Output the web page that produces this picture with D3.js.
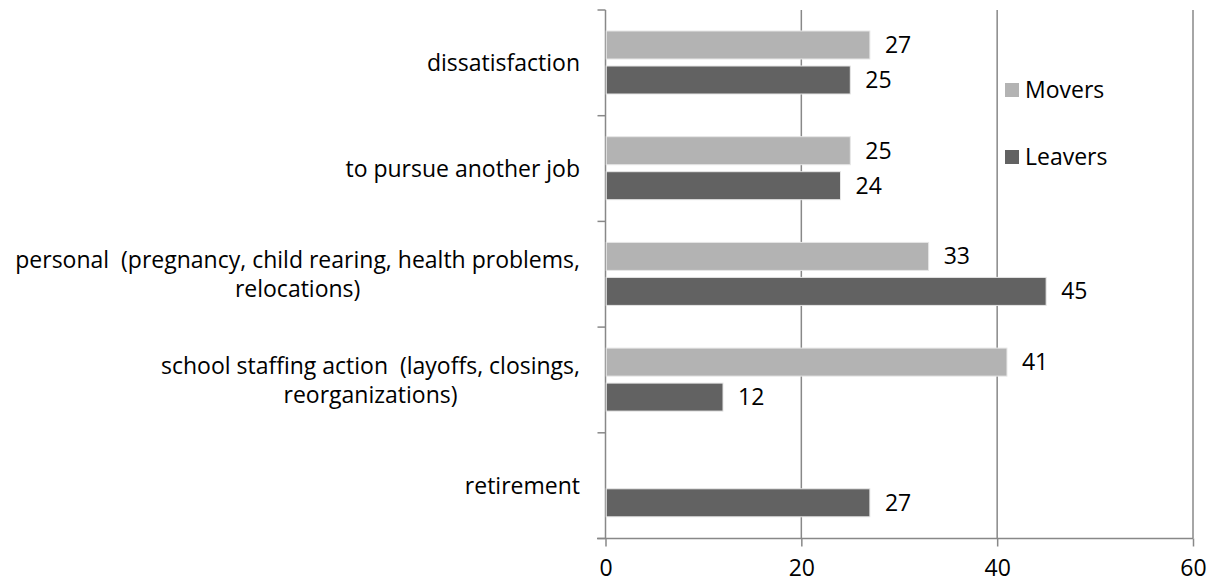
<!DOCTYPE html>
<html><head><meta charset="utf-8">
<script src="https://cdn.jsdelivr.net/npm/d3@7"></script>
<style>
html,body{margin:0;padding:0;background:#fff;}
text{font-family:"Open Sans",sans-serif;fill:#000;white-space:pre;}
</style></head>
<body>
<svg id="chart" width="1215" height="584"></svg>
<script>
const categories = [
  ["dissatisfaction"],
  ["to pursue another job"],
  ["personal  (pregnancy, child rearing, health problems,", "relocations)"],
  ["school staffing action  (layoffs, closings,", "reorganizations)"],
  ["retirement"]
];
const categoryKeys = ["dissatisfaction","to pursue another job","personal","school staffing action","retirement"];
const seriesNames = ["Movers","Leavers"];
const movers  = [27, 25, 33, 41, null];
const leavers = [25, 24, 45, 12, 27];
const xTicks = [0, 20, 40, 60];
const colors = {Movers:"#b3b3b3", Leavers:"#626262"};

const svg = d3.select("#chart");
const fs = 23;
const fontFam = '"Open Sans",sans-serif';
const x = d3.scaleLinear().domain([0,60]).range([605.5,1193]);
const y = d3.scaleBand().domain(categoryKeys).range([10,538.5]).padding(0);
const inner = d3.scaleBand().domain(seriesNames).range([21,84]).paddingInner(0.2).paddingOuter(0);
const gridColor = "#888888";

// gridlines
svg.append("g").selectAll("line").data(xTicks.slice(1)).join("line")
  .attr("x1",d=>x(d)).attr("x2",d=>x(d)).attr("y1",10).attr("y2",538.5)
  .attr("stroke",gridColor).attr("stroke-width",1.5);

// x axis
const xAxis = svg.append("g").attr("transform","translate(0,538.5)")
  .call(d3.axisBottom(x).tickValues(xTicks).tickSize(8).tickPadding(13).tickFormat(d3.format("d")));
xAxis.select(".domain").attr("stroke",gridColor).attr("stroke-width",1.5).attr("d","M597,0H1193");
xAxis.selectAll(".tick line").attr("stroke",gridColor).attr("stroke-width",1.5);
xAxis.selectAll(".tick text").attr("font-size",fs).attr("fill","#000").style("font-family",fontFam);

// y axis
const yAxis = svg.append("g").attr("transform","translate(605.5,0)");
yAxis.append("line").attr("x1",0).attr("x2",0).attr("y1",10).attr("y2",538.5).attr("stroke",gridColor).attr("stroke-width",1.5);
const bounds = categoryKeys.map(c=>y(c)).concat([y.range()[1]]);
yAxis.selectAll("line.tk").data(bounds).join("line").attr("class","tk")
  .attr("x1",-8).attr("x2",0).attr("y1",d=>d).attr("y2",d=>d)
  .attr("stroke",gridColor).attr("stroke-width",1.5);

// category labels
const lineH = 29;
const labelG = svg.append("g");
categoryKeys.forEach((k,i)=>{
  const lines = categories[i];
  const cy = y(k) + y.bandwidth()/2;
  const g = labelG.append("g");
  const t = g.append("text").attr("font-size",fs).attr("text-anchor","middle");
  lines.forEach((ln,j)=>{
    t.append("tspan").attr("x",0).attr("y",cy + (j - (lines.length-1)/2)*lineH).attr("dy","0.35em").text(ln);
  });
  const bb = t.node().getBBox();
  g.attr("transform",`translate(${580 - (bb.x+bb.width)},0)`);
});

// bars
const data = [];
categoryKeys.forEach((k,i)=>{
  data.push({cat:k, s:"Movers", v:movers[i]});
  data.push({cat:k, s:"Leavers", v:leavers[i]});
});
const valid = data.filter(d=>d.v!=null);
svg.append("g").selectAll("rect").data(valid).join("rect")
  .attr("x",x(0)+0.75).attr("y",d=>y(d.cat)+inner(d.s))
  .attr("width",d=>x(d.v)-x(0)-0.75).attr("height",inner.bandwidth())
  .attr("fill",d=>colors[d.s]).attr("stroke","#e6e6e6").attr("stroke-width",1);

// value labels
svg.append("g").selectAll("text").data(valid).join("text")
  .attr("x",d=>x(d.v)+15).attr("y",d=>y(d.cat)+inner(d.s)+inner.bandwidth()/2)
  .attr("dy","0.35em").attr("font-size",fs).text(d=>d.v);

// legend
const legendY = {Movers:90, Leavers:157};
const lg = svg.append("g");
seriesNames.forEach(s=>{
  lg.append("rect").attr("x",1005).attr("y",legendY[s]-7).attr("width",14).attr("height",14).attr("fill",colors[s]);
  lg.append("text").attr("x",1025).attr("y",legendY[s]).attr("dy","0.35em").attr("font-size",fs).text(s);
});
</script>
</body></html>
